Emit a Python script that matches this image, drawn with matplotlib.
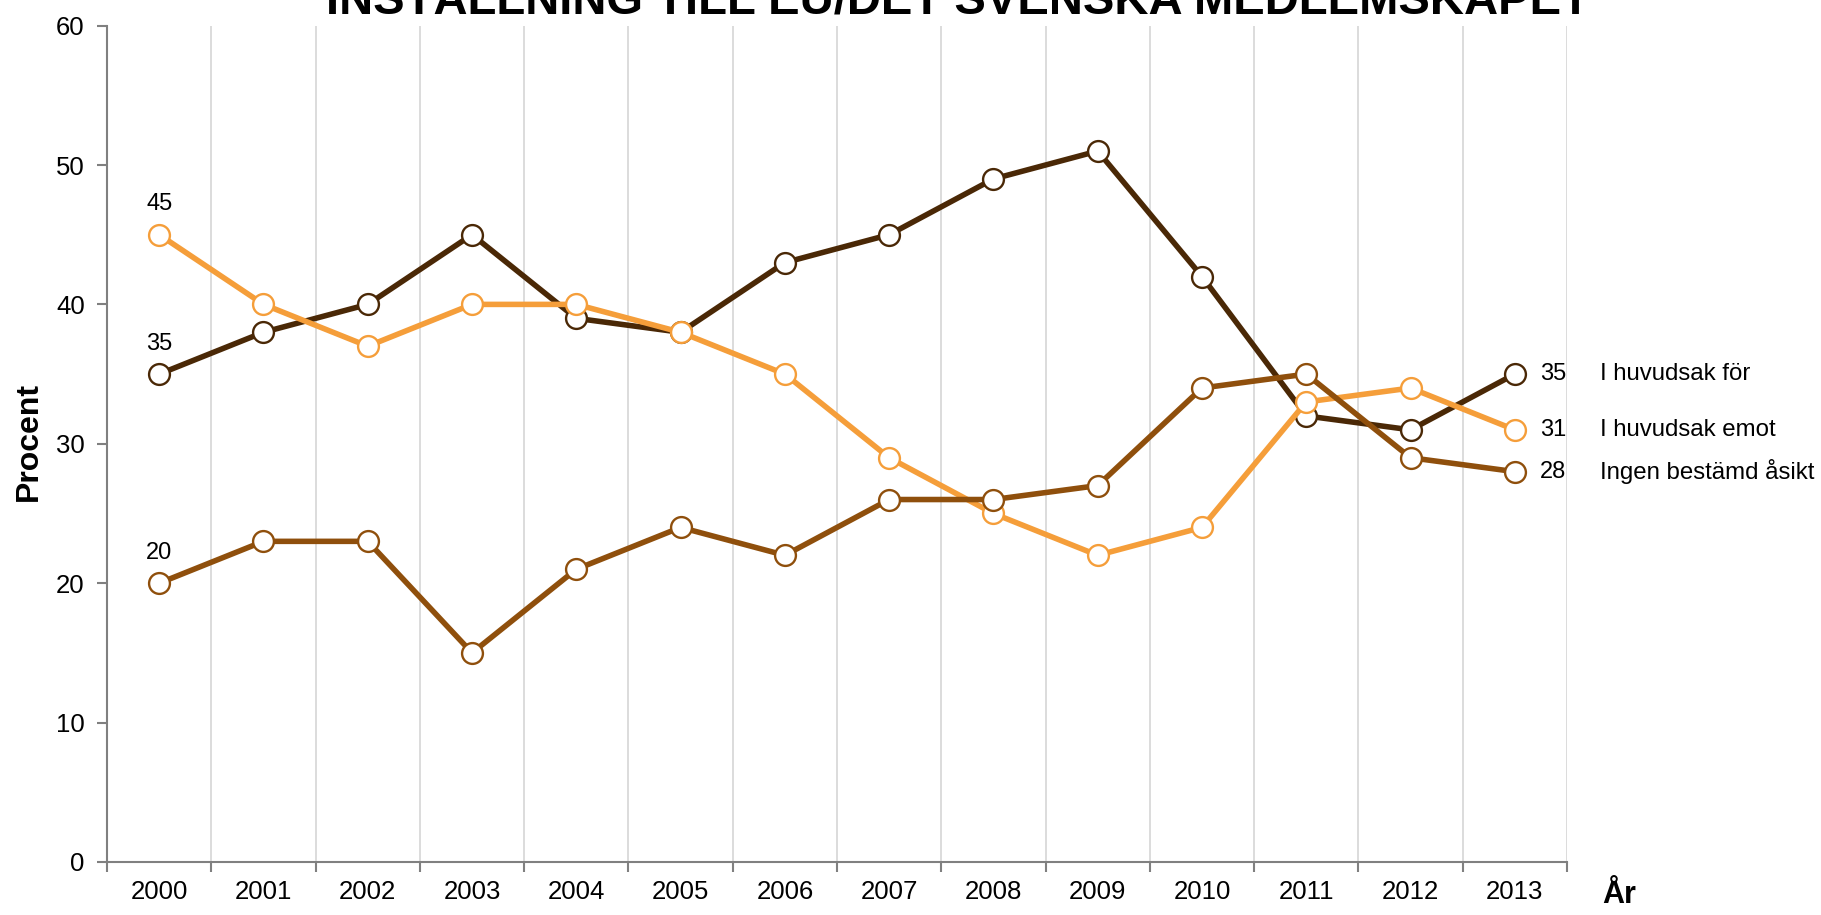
import matplotlib
matplotlib.use("Agg")
import matplotlib.pyplot as plt
import matplotlib.transforms as mtransforms
import numpy as np

plt.rcParams['font.family'] = ['Liberation Sans', 'DejaVu Sans']

years = [2000, 2001, 2002, 2003, 2004, 2005, 2006, 2007, 2008, 2009, 2010, 2011, 2012, 2013]
for_eu = [35, 38, 40, 45, 39, 38, 43, 45, 49, 51, 42, 32, 31, 35]
emot_eu = [45, 40, 37, 40, 40, 38, 35, 29, 25, 22, 24, 33, 34, 31]
ingen = [20, 23, 23, 15, 21, 24, 22, 26, 26, 27, 34, 35, 29, 28]

series = [
    ('I huvudsak för', for_eu, '#4a2806'),
    ('I huvudsak emot', emot_eu, '#f59e3a'),
    ('Ingen bestämd åsikt', ingen, '#8f4f0c'),
]

fig = plt.figure(figsize=(18.21, 9.15), dpi=100)
ax = fig.add_axes([0.0588, 0.058, 0.8017, 0.914])

# x in figure fraction, y in data units (for the series names on the right)
name_trans = mtransforms.blended_transform_factory(fig.transFigure, ax.transData)

x = np.arange(len(years))
for name, vals, col in series:
    ax.plot(x, vals, color=col, lw=4, marker='o', ms=15,
            mfc='white', mec=col, mew=1.7, solid_joinstyle='round')
    # label on first point
    ax.annotate(str(vals[0]), xy=(x[0], vals[0]), xytext=(0, 14),
                textcoords='offset points', ha='center', va='bottom', fontsize=17)
    # label on last point
    ax.annotate(str(vals[-1]), xy=(x[-1], vals[-1]), xytext=(18, 0),
                textcoords='offset points', ha='left', va='center', fontsize=17)
    ax.text(1600 / 1821, vals[-1], name, transform=name_trans,
            ha='left', va='center', fontsize=17.3, clip_on=False)

ax.set_xlim(-0.5, len(years) - 0.5)
ax.set_ylim(0, 60)
ax.set_yticks(range(0, 61, 10))
ax.set_xticks(x)
ax.set_xticklabels([str(y) for y in years])
ax.set_xticks(np.arange(-0.5, len(years), 1), minor=True)
ax.tick_params(axis='x', which='major', length=0, pad=13, labelsize=18.5)
ax.tick_params(axis='x', which='minor', length=7, color='#808080', width=1.5, direction='out')
ax.tick_params(axis='y', length=7, color='#808080', width=1.5, direction='out', labelsize=18.5, pad=9)
ax.grid(axis='x', which='minor', color='#d9d9d9', lw=1.3)
ax.set_axisbelow(True)
for s in ['top', 'right']:
    ax.spines[s].set_visible(False)
for s in ['left', 'bottom']:
    ax.spines[s].set_color('#808080')
    ax.spines[s].set_linewidth(1.5)

fig.text(0.016, 0.518, 'Procent', rotation=90, ha='center', va='center',
         fontsize=23, fontweight='bold')
fig.text(0.889, 0.005, 'År', ha='center', va='bottom', fontsize=22, fontweight='bold')
fig.text(0.526, 0.985, 'INSTÄLLNING TILL EU/DET SVENSKA MEDLEMSKAPET', ha='center',
         va='baseline', fontsize=34, fontweight='bold')

fig.savefig('out.png', dpi=100)
